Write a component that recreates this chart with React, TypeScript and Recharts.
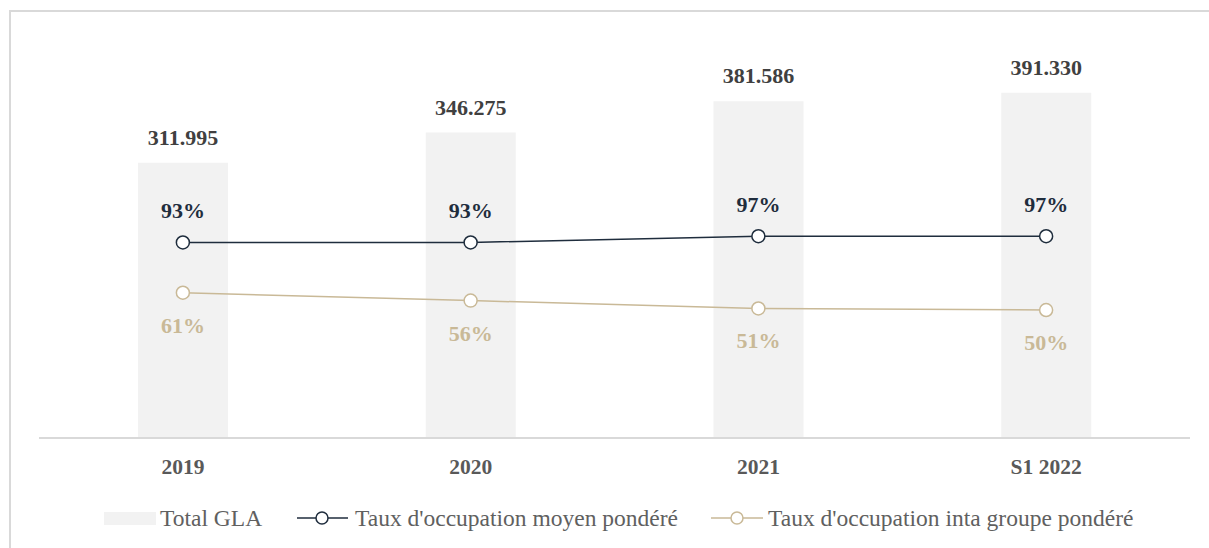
import {
  ComposedChart,
  Bar,
  Line,
  XAxis,
  YAxis,
  Legend,
  LabelList,
} from "recharts";

const categories = ["2019", "2020", "2021", "S1 2022"];
const totalGla = [311995, 346275, 381586, 391330];
const tauxMoyen = [0.93, 0.93, 0.97, 0.97];
const tauxGroupe = [0.61, 0.56, 0.51, 0.5];

const data = categories.map((cat, i) => ({
  cat,
  gla: totalGla[i],
  moyen: tauxMoyen[i],
  groupe: tauxGroupe[i],
}));

const NAVY = "#1f2d3d";
const BEIGE = "#c9b997";
const BAR = "#f2f2f2";
const FONT = "'Liberation Serif', 'Times New Roman', serif";

const fmtGla = (v: number) =>
  String(v).replace(/\B(?=(\d{3})+(?!\d))/g, ".");
const fmtPct = (v: number) => `${Math.round(v * 100)}%`;

const XTick = (props: any) => {
  const { x, y, payload } = props;
  return (
    <text
      x={x}
      y={y}
      dy={36}
      textAnchor="middle"
      fontFamily={FONT}
      fontWeight="bold"
      fontSize={21.5}
      fill="#595959"
    >
      {payload.value}
    </text>
  );
};

// legend drawn as one small svg; row centre at y=17
const LegendContent = () => (
  <svg width={1209} height={40} style={{ display: "block" }}>
    <rect x={104} y={11} width={52} height={13} fill={BAR} />
    <text x={160} y={25} fontFamily={FONT} fontSize={23.5} fill="#606060">
      Total GLA
    </text>
    <line x1={297} x2={348} y1={17} y2={17} stroke={NAVY} strokeWidth={1.5} />
    <circle cx={322} cy={17} r={6} fill="#fff" stroke={NAVY} strokeWidth={1.5} />
    <text x={355} y={25} fontFamily={FONT} fontSize={23.5} fill="#606060">
      Taux d'occupation moyen pondéré
    </text>
    <line x1={711} x2={763} y1={17} y2={17} stroke={BEIGE} strokeWidth={1.5} />
    <circle cx={737} cy={17} r={6} fill="#fff" stroke={BEIGE} strokeWidth={1.5} />
    <text x={768} y={25} fontFamily={FONT} fontSize={23.5} fill="#606060">
      Taux d'occupation inta groupe pondéré
    </text>
  </svg>
);

export default function App() {
  return (
    <div
      style={{
        position: "absolute",
        left: 0,
        top: 0,
        width: 1209,
        height: 548,
        background: "#fff",
        fontFamily: FONT,
      }}
    >
      <div
        style={{
          position: "absolute",
          left: 9,
          top: 10,
          right: 0,
          bottom: 0,
          borderTop: "2px solid #d9d9d9",
          borderLeft: "2px solid #d9d9d9",
        }}
      />
      <ComposedChart
        width={1209}
        height={548}
        data={data}
        margin={{ top: 41, right: 19, left: 39, bottom: 80 }}
        style={{ position: "absolute", left: 0, top: 0 }}
      >
        <XAxis
          dataKey="cat"
          height={30}
          axisLine={{ stroke: "#d9d9d9", strokeWidth: 2 }}
          tickLine={false}
          tickSize={0}
          tickMargin={0}
          tick={<XTick />}
          interval={0}
        />
        <YAxis yAxisId="gla" hide domain={[0, 450000]} />
        <YAxis yAxisId="pct" hide orientation="right" domain={[-0.315, 2.213]} />
        <Legend
          layout="horizontal"
          verticalAlign="middle"
          align="center"
          wrapperStyle={{ top: 501, left: 0, width: 1209 }}
          content={<LegendContent />}
        />
        <Bar
          yAxisId="gla"
          dataKey="gla"
          fill={BAR}
          barSize={90}
          isAnimationActive={false}
        >
          <LabelList
            dataKey="gla"
            content={(p: any) => (
              <text
                x={p.x + p.width / 2}
                y={p.y - 18}
                textAnchor="middle"
                fontFamily={FONT}
                fontWeight="bold"
                fontSize={22}
                fill="#404040"
              >
                {fmtGla(p.value)}
              </text>
            )}
          />
        </Bar>
        <Line
          yAxisId="pct"
          dataKey="moyen"
          stroke={NAVY}
          strokeWidth={1.5}
          dot={{ r: 6.5, fill: "#fff", stroke: NAVY, strokeWidth: 1.5 }}
          activeDot={false}
          isAnimationActive={false}
        >
          <LabelList
            dataKey="moyen"
            content={(p: any) => (
              <text
                x={p.x}
                y={p.y - 24}
                textAnchor="middle"
                fontFamily={FONT}
                fontWeight="bold"
                fontSize={22}
                fill={NAVY}
              >
                {fmtPct(p.value)}
              </text>
            )}
          />
        </Line>
        <Line
          yAxisId="pct"
          dataKey="groupe"
          stroke={BEIGE}
          strokeWidth={1.5}
          dot={{ r: 6.5, fill: "#fff", stroke: BEIGE, strokeWidth: 1.5 }}
          activeDot={false}
          isAnimationActive={false}
        >
          <LabelList
            dataKey="groupe"
            content={(p: any) => (
              <text
                x={p.x}
                y={p.y + 40}
                textAnchor="middle"
                fontFamily={FONT}
                fontWeight="bold"
                fontSize={22}
                fill={BEIGE}
              >
                {fmtPct(p.value)}
              </text>
            )}
          />
        </Line>
      </ComposedChart>
    </div>
  );
}
